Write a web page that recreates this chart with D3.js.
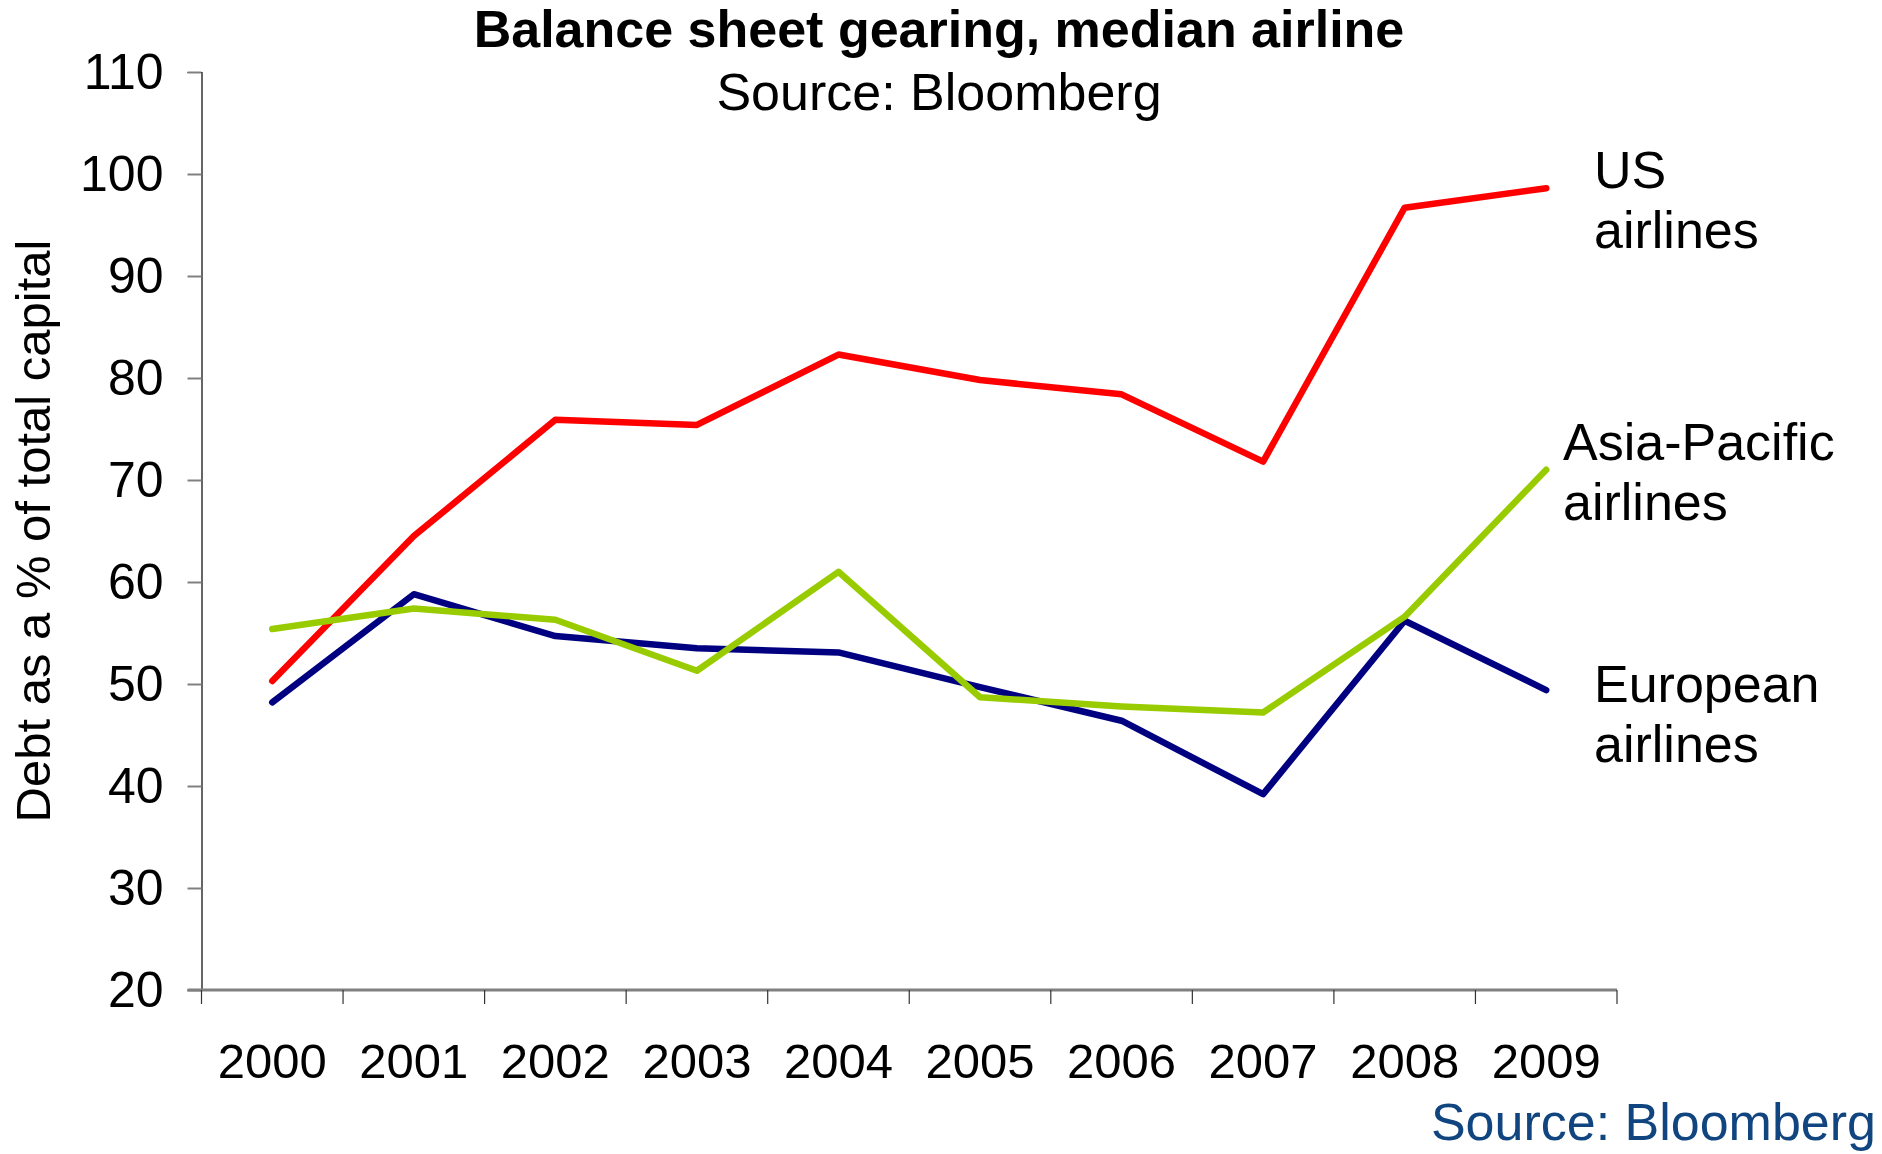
<!DOCTYPE html>
<html>
<head>
<meta charset="utf-8">
<script src="https://cdn.jsdelivr.net/npm/d3@7"></script>
<style>
  html, body { margin: 0; padding: 0; background: #fff; }
  svg { display: block; }
  text { font-family: "Liberation Sans", Arial, Helvetica, sans-serif; }
</style>
</head>
<body>
<svg id="chart" width="1882" height="1154"></svg>
<script>
// ---- Data ----
const years = ["2000","2001","2002","2003","2004","2005","2006","2007","2008","2009"];
const usAirlines       = [50.3, 64.5, 75.9, 75.4, 82.3, 79.8, 78.4, 71.8, 96.7, 98.6];
const europeanAirlines = [48.2, 58.8, 54.7, 53.5, 53.1, 49.7, 46.4, 39.2, 56.2, 49.4];
const asiaPacAirlines  = [55.4, 57.4, 56.3, 51.3, 61.0, 48.7, 47.8, 47.2, 56.6, 71.0];
const yTicks = [20, 30, 40, 50, 60, 70, 80, 90, 100, 110];
const seriesNames = ["US airlines", "European airlines", "Asia-Pacific airlines"];
const seriesColors = ["#ff0000", "#000080", "#99cc00"];
const labelLines = [["US", "airlines"], ["European", "airlines"], ["Asia-Pacific", "airlines"]];

(function () {
const svg = d3.select("#chart");
const mLeft = 201.5, mRight = 1617, mTop = 72, mBottom = 990;

const x = d3.scaleBand().domain(years).range([mLeft, mRight]).padding(0);
const y = d3.scaleLinear().domain([20, 110]).range([mBottom, mTop]);
const cx = d => x(d) + x.bandwidth() / 2;

// Y axis
const yAxis = d3.axisLeft(y).tickValues(yTicks).tickSize(14).tickPadding(24).tickFormat(d3.format("d"));
const gy = svg.append("g").attr("transform", `translate(${mLeft},0)`).call(yAxis);
gy.select(".domain").attr("stroke", "#000").attr("stroke-width", 1.2);
gy.selectAll(".tick line").attr("stroke", "#808080").attr("stroke-width", 2);
gy.selectAll(".tick text").attr("font-size", 50).attr("fill", "#000")
  .style("font-family", '"Liberation Sans", Arial, sans-serif');

// X axis
const gx = svg.append("g").attr("transform", `translate(0,${mBottom})`);
gx.append("line").attr("x1", mLeft - 14).attr("x2", mRight).attr("y1", 0).attr("y2", 0)
  .attr("stroke", "#808080").attr("stroke-width", 3);
const edges = years.map(d => x(d)).concat([mRight]);
gx.selectAll("line.tk").data(edges).enter().append("line").attr("class", "tk")
  .attr("x1", d => d).attr("x2", d => d).attr("y1", 0).attr("y2", 14)
  .attr("stroke", "#333").attr("stroke-width", 1.2);
gx.selectAll("text").data(years).enter().append("text")
  .attr("x", d => cx(d)).attr("y", 88).attr("text-anchor", "middle")
  .attr("font-size", 49).attr("fill", "#000").text(d => d);

// Lines
const allSeries = [usAirlines, europeanAirlines, asiaPacAirlines];
const line = d3.line().x((d, i) => cx(years[i])).y(d => y(d));
allSeries.forEach((s, k) => {
  svg.append("path").datum(s).attr("d", line)
    .attr("fill", "none").attr("stroke", seriesColors[k]).attr("stroke-width", 6.5)
    .attr("stroke-linecap", "round").attr("stroke-linejoin", "round");
});

// Series labels
const labelPos = [[1594, 188], [1594, 702], [1563, 460]];
labelLines.forEach((lines, k) => {
  const t = svg.append("text").attr("x", labelPos[k][0]).attr("y", labelPos[k][1])
    .attr("font-size", 52).attr("fill", "#000");
  lines.forEach((ln, j) => {
    t.append("tspan").attr("x", labelPos[k][0]).attr("dy", j === 0 ? 0 : 60).text(ln);
  });
});

// Title
svg.append("text").attr("x", 939).attr("y", 47).attr("text-anchor", "middle")
  .attr("font-size", 52).attr("font-weight", "bold").attr("fill", "#000")
  .text("Balance sheet gearing, median airline");
svg.append("text").attr("x", 939).attr("y", 110).attr("text-anchor", "middle")
  .attr("font-size", 52).attr("fill", "#000").text("Source: Bloomberg");

// Y axis title
svg.append("text").attr("transform", "translate(50,531) rotate(-90)")
  .attr("text-anchor", "middle").attr("font-size", 49).attr("fill", "#000")
  .text("Debt as a % of total capital");

// Source footnote
svg.append("text").attr("x", 1876).attr("y", 1140).attr("text-anchor", "end")
  .attr("font-size", 52).attr("fill", "#11457f").text("Source: Bloomberg");
})();
</script>
</body>
</html>
